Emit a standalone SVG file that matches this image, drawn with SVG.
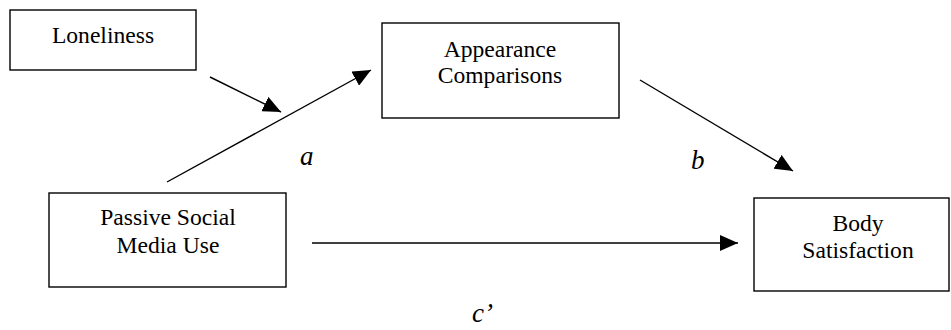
<svg xmlns="http://www.w3.org/2000/svg" width="951" height="330" viewBox="0 0 951 330">
<defs>
<style>
.box{fill:#fff;stroke:#000;stroke-width:1.4}
.t{font-family:"Liberation Serif","Times New Roman",serif;font-size:23.6px;fill:#000;text-anchor:middle}
.lbl{font-family:"Liberation Serif","Times New Roman",serif;font-size:27px;font-style:italic;fill:#000}
.c{stroke:#000;stroke-width:1.4;fill:none}
</style>
<marker id="ah" markerUnits="userSpaceOnUse" markerWidth="20" markerHeight="16" refX="18" refY="8" orient="auto">
<path d="M0,0 L18,8 L0,16 Z" fill="#000"/>
</marker>
</defs>
<rect width="951" height="330" fill="#fff"/>
<g id="loneliness">
<rect class="box" x="10" y="10" width="186" height="60"/>
<text class="t" x="103" y="43">Loneliness</text>
</g>
<g id="appearance">
<rect class="box" x="382" y="23" width="237" height="95"/>
<text class="t" x="500" y="57">Appearance</text>
<text class="t" x="500" y="83">Comparisons</text>
</g>
<g id="passive">
<rect class="box" x="49" y="193" width="237" height="94"/>
<text class="t" x="168" y="225">Passive Social</text>
<text class="t" x="168" y="253">Media Use</text>
</g>
<g id="body">
<rect class="box" x="754" y="198" width="195" height="93"/>
<text class="t" x="858" y="231">Body</text>
<text class="t" x="858" y="258">Satisfaction</text>
</g>
<g id="connectors">
<line class="c" x1="210" y1="77" x2="281" y2="112" marker-end="url(#ah)"/>
<line class="c" x1="167" y1="182" x2="371" y2="70" marker-end="url(#ah)"/>
<line class="c" x1="640" y1="80" x2="793" y2="171" marker-end="url(#ah)"/>
<line class="c" x1="312" y1="243" x2="738" y2="243" marker-end="url(#ah)"/>
</g>
<g id="labels">
<text class="lbl" x="300" y="165">a</text>
<text class="lbl" x="691" y="169">b</text>
<text class="lbl" x="472" y="322">c’</text>
</g>
</svg>
